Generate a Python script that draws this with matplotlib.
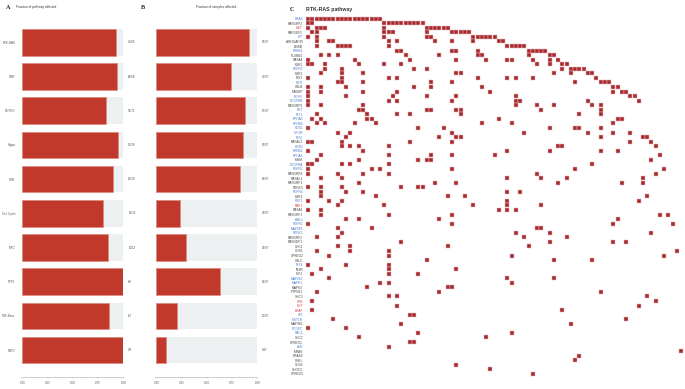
import matplotlib
matplotlib.use("Agg")
import matplotlib.pyplot as plt

plt.rcParams['font.family'] = ['Liberation Sans', 'DejaVu Sans']

pathways = ["RTK-RAS", "WNT", "NOTCH", "Hippo", "PI3K", "Cell Cycle", "MYC", "TP53", "TGF-Beta", "NRF2"]
genes_hit = [79, 64, 59, 36, 26, 12, 11, 6, 6, 3]
genes_total = [85, 68, 71, 38, 29, 15, 13, 6, 7, 3]
samples_hit = [89, 72, 85, 83, 80, 23, 29, 61, 20, 9]
samples_total = 97
ticks = [0, 0.25, 0.5, 0.75, 1]
tick_labels = ["0.00", "0.25", "0.50", "0.75", "1.00"]

genes = ["KRAS", "RASGRP2", "MET", "RAPGEF2", "KIT", "ARHGAP35", "DGKB", "ERBB3", "PLXNB1", "RASA4",
         "KSR2", "FGFR3", "KSR1", "IRS1", "LIFR", "CBLB", "DAB2IP", "EGFR", "PDGFRB", "RASGRP3",
         "RET", "FLT1", "EPHA2", "EPHB3", "ROS1", "IGF1R", "IRS2", "RASAL2", "DDR2", "ERBB2",
         "EPHA5", "MGM", "PDGFRA", "FGFR2", "RASGRP4", "RASAL1", "RASGRP1", "NTRK3", "FGFR4", "KSR3",
         "FGF1", "RAF1", "RASA1", "RASGRF1", "ABL2", "FGFR1", "MAP2K1", "NTRK2", "RASGRF2", "RASGEF1",
         "SHC1", "SOS1", "SPRED2", "CBLC", "FLT4", "INSR", "IGF2", "MAP2K2", "MAPK1", "MAPK3",
         "PTPN11", "SHC3", "CRK", "EGF", "BRAF", "LTK", "MST1R", "MAP3K1", "PDGFC", "RAC1",
         "SHC2", "SPRED1", "AXL", "MRAS", "RRAS2", "CRKL", "SOS2", "SHOC2", "SPRED3"]
blue_rows = [0, 4, 7, 11, 14, 17, 18, 20, 21, 22, 23, 24, 25, 26, 28, 29, 30, 32, 33, 38, 40,
             44, 45, 46, 47, 54, 57, 58, 65, 66, 68, 69, 72]
red_rows = [2, 41, 62, 63, 64]

# altered columns for every gene row, top to bottom
altered = [
    list(range(0, 18)),
    [0, 1] + list(range(18, 28)),
    [0, 2, 3, 4, 18] + list(range(28, 34)),
    [1, 2, 18, 19, 20, 28] + list(range(34, 39)),
    [0, 2, 18, 28, 29] + list(range(39, 45)),
    [2, 5, 6, 19, 21, 30, 34, 39, 45, 46],
    [2, 7, 8, 9, 10, 19] + list(range(47, 52)),
    [21, 22, 34, 35, 40] + list(range(52, 57)),
    [3, 5, 7, 23, 31, 40, 41, 52, 57, 58],
    [0, 11, 24, 35, 42, 47, 48, 53, 57, 59],
    [0, 1, 4, 12, 18, 22, 54, 57, 60, 61],
    [4, 8, 25, 28, 60, 62, 63, 64, 65],
    [3, 8, 13, 35, 36, 58, 62, 66, 67],
    [0, 8, 19, 21, 40, 47, 49, 53, 68],
    [7, 8, 13, 29, 34, 63, 69, 70, 71],
    [0, 3, 9, 25, 29, 41, 72, 73],
    [0, 3, 13, 21, 43, 72, 74, 75],
    [0, 9, 20, 28, 35, 49, 76, 77],
    [0, 19, 21, 34, 49, 50, 66, 78],
    [0, 3, 13, 49, 54, 58, 67, 69],
    [12, 13, 28, 29, 35, 36, 55, 69],
    [2, 14, 21, 24, 36, 64, 69],
    [1, 3, 14, 15, 45, 73, 74],
    [2, 4, 11, 16, 41, 48, 72],
    [0, 26, 32, 57, 63, 64, 69],
    [7, 10, 34, 51, 66, 72, 76],
    [9, 31, 35, 36, 69, 79, 80],
    [0, 1, 8, 24, 34, 76, 81],
    [8, 10, 12, 19, 59, 60, 82],
    [0, 13, 47, 57, 69, 73],
    [3, 19, 29, 34, 44, 83],
    [2, 12, 26, 28, 29, 81],
    [0, 1, 8, 10, 19, 67],
    [0, 15, 17, 34, 63, 84],
    [0, 7, 13, 19, 54, 82],
    [3, 8, 47, 55, 61, 79],
    [12, 30, 35, 59, 74, 79],
    [0, 3, 8, 22, 26, 27],
    [3, 9, 13, 47, 50],
    [3, 16, 33, 37, 80],
    [0, 5, 8, 47, 78],
    [7, 18, 39, 47, 55],
    [0, 3, 45, 47, 49],
    [3, 19, 34, 83, 85],
    [9, 12, 31, 73],
    [0, 34, 72, 86],
    [7, 15, 54, 55],
    [8, 49, 57, 81],
    [2, 7, 51, 61],
    [22, 57, 72, 75],
    [7, 10, 33, 52],
    [2, 10, 19, 87],
    [5, 19, 48, 84],
    [28, 58, 67],
    [0, 9, 19],
    [3, 19, 35],
    [1, 19, 26],
    [5, 47, 58],
    [17, 19, 48],
    [14, 33, 34],
    [2, 31, 69],
    [19, 21, 80],
    [1, 82],
    [21, 78],
    [1, 60],
    [24, 25],
    [6, 75],
    [22, 62],
    [0, 9],
    [26, 48],
    [12, 42],
    [24, 25],
    [19],
    [88],
    [64],
    [63],
    [35],
    [43],
    [53],
]
n_cols = 89

W, H = 685, 389


def px_axes(left, top, width, height):
    return fig.add_axes([left / W, 1 - (top + height) / H, width / W, height / H])


def bar_panel(ax, fractions, right_labels, left_labels):
    ys = range(len(pathways))
    ax.barh(ys, [1] * len(pathways), height=0.78, color="#ecf0f1")
    ax.barh(ys, fractions, height=0.78, color="#c0392b", edgecolor="#e08a80", linewidth=0.5)
    for s in ["top", "left", "right"]:
        ax.spines[s].set_visible(False)
    # set_position resets the ticks, so it has to come before the tick setup
    ax.spines["bottom"].set_position(("outward", 7))
    ax.spines["bottom"].set_color("#cccccc")
    ax.spines["bottom"].set_linewidth(0.7)
    ax.set_xlim(0, 1)
    ax.set_ylim(9.5, -0.5)
    ax.set_yticks(list(ys))
    ax.set_yticklabels(left_labels, fontsize=2.2, color="#555555")
    ax.tick_params(axis="y", length=0, pad=5)
    ax.set_xticks(ticks)
    ax.set_xticklabels(tick_labels, fontsize=2.2, color="#555555")
    ax.tick_params(axis="x", length=1.5, width=0.3, color="#999999", pad=1.5)
    for i, lab in enumerate(right_labels):
        ax.annotate(lab, xy=(1, i), xycoords=ax.get_yaxis_transform(), xytext=(3.6, 0),
                    textcoords="offset points", fontsize=2.2, color="#555555", va="center", ha="left")


fig = plt.figure(figsize=(W / 100, H / 100), dpi=100)

axA = px_axes(22.3, 25.25, 101, 342)
bar_panel(axA, [a / b for a, b in zip(genes_hit, genes_total)],
          [f"{a}/{b}" for a, b in zip(genes_hit, genes_total)], pathways)

axB = px_axes(156.3, 25.25, 101, 342)
bar_panel(axB, [a / samples_total for a in samples_hit],
          [f"{a}/{samples_total}" for a in samples_hit], [""] * len(pathways))

axC = px_axes(305.9, 16.4, 377.4, 359.8)
grid_x = [c for r in range(len(genes)) for c in range(n_cols)]
grid_y = [r for r in range(len(genes)) for c in range(n_cols)]
axC.scatter(grid_x, grid_y, s=0.4, marker="s", color="#e6e6e6", linewidths=0)
cell_x = [c for row in altered for c in row]
cell_y = [r for r, row in enumerate(altered) for c in row]
axC.scatter(cell_x, cell_y, s=5.6, marker="s", color="#a82a2f", edgecolors="#e3b9b9", linewidths=0.35)
axC.set_xlim(-0.5, n_cols - 0.5)
axC.set_ylim(len(genes) - 0.5, -0.5)
axC.set_xticks([])
axC.set_yticks(range(len(genes)))
axC.set_yticklabels(genes, fontsize=2.3)
axC.tick_params(axis="y", length=0, pad=2)
for i, lab in enumerate(axC.get_yticklabels()):
    if i in blue_rows:
        lab.set_color("#4a7fd0")
    elif i in red_rows:
        lab.set_color("#d04545")
    else:
        lab.set_color("#444444")
for s in axC.spines.values():
    s.set_visible(False)

fig.text(36 / W, 1 - 7.3 / H, "Fraction of pathway affected", fontsize=2.3, color="#333333", ha="center", va="center")
fig.text(216.5 / W, 1 - 7.3 / H, "Fraction of samples affected", fontsize=2.3, color="#333333", ha="center", va="center")
fig.text(8.5 / W, 1 - 7.5 / H, "A", fontsize=4.5, family="Liberation Serif", weight="bold", color="#222222", ha="center", va="center")
fig.text(143 / W, 1 - 7.5 / H, "B", fontsize=4.5, family="Liberation Serif", weight="bold", color="#222222", ha="center", va="center")
fig.text(292 / W, 1 - 9.5 / H, "C", fontsize=4.5, family="Liberation Serif", weight="bold", color="#222222", ha="center", va="center")
fig.text(306 / W, 1 - 10 / H, "RTK-RAS pathway", fontsize=3.8, weight="bold", color="#333333", ha="left", va="center")

fig.savefig("out.png", dpi=100)
